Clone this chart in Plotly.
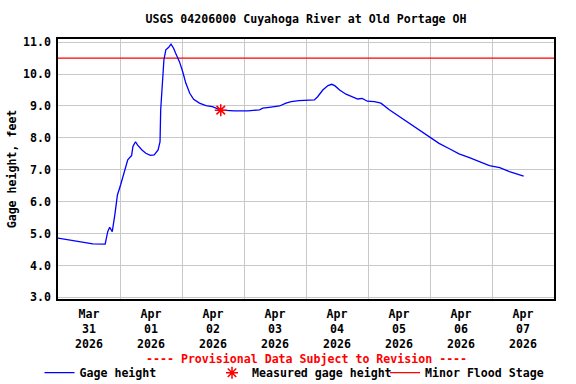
import plotly.graph_objects as go

# ---- data ----
gage_times = [
    "2026-03-31 00:00", "2026-03-31 04:15", "2026-03-31 08:45", "2026-03-31 13:30",
    "2026-03-31 18:15", "2026-03-31 19:15", "2026-03-31 20:00", "2026-03-31 20:45",
    "2026-03-31 21:00", "2026-03-31 22:00", "2026-03-31 23:00", "2026-04-01 00:15",
    "2026-04-01 01:45", "2026-04-01 03:00", "2026-04-01 04:30", "2026-04-01 05:00",
    "2026-04-01 06:00", "2026-04-01 06:45", "2026-04-01 08:30", "2026-04-01 10:00",
    "2026-04-01 11:45", "2026-04-01 13:15", "2026-04-01 14:45", "2026-04-01 15:30",
    "2026-04-01 15:45", "2026-04-01 16:30", "2026-04-01 17:00", "2026-04-01 17:45",
    "2026-04-01 18:45", "2026-04-01 19:45", "2026-04-01 20:45", "2026-04-01 21:30",
    "2026-04-01 23:00", "2026-04-02 00:15", "2026-04-02 01:30", "2026-04-02 03:00",
    "2026-04-02 04:30", "2026-04-02 06:45", "2026-04-02 09:15", "2026-04-02 11:45",
    "2026-04-02 13:45", "2026-04-02 15:00", "2026-04-02 20:15", "2026-04-03 01:30",
    "2026-04-03 06:00", "2026-04-03 07:15", "2026-04-03 09:45", "2026-04-03 13:45",
    "2026-04-03 16:15", "2026-04-03 18:15", "2026-04-03 21:15", "2026-04-04 03:15",
    "2026-04-04 04:30", "2026-04-04 06:30", "2026-04-04 08:30", "2026-04-04 10:00",
    "2026-04-04 11:15", "2026-04-04 13:00", "2026-04-04 15:30", "2026-04-04 18:00",
    "2026-04-04 20:00", "2026-04-04 21:45", "2026-04-04 23:45", "2026-04-05 02:30",
    "2026-04-05 05:00", "2026-04-05 08:15", "2026-04-05 12:00", "2026-04-05 16:00",
    "2026-04-05 20:00", "2026-04-05 23:45", "2026-04-06 03:30", "2026-04-06 07:30",
    "2026-04-06 11:15", "2026-04-06 15:15", "2026-04-06 19:00", "2026-04-06 23:00",
    "2026-04-07 03:00", "2026-04-07 06:45", "2026-04-07 12:15",
]
gage_height_ft = [
    4.86, 4.80, 4.74, 4.68,
    4.67, 5.06, 5.20, 5.06,
    5.06, 5.59, 6.21, 6.53,
    6.94, 7.31, 7.45, 7.73,
    7.88, 7.78, 7.62, 7.52,
    7.45, 7.47, 7.62, 7.88,
    8.88, 9.97, 10.45, 10.76,
    10.83, 10.94, 10.81, 10.66,
    10.39, 10.08, 9.71, 9.40,
    9.21, 9.09, 9.01, 8.98,
    8.91, 8.87, 8.85, 8.85,
    8.88, 8.93, 8.96, 9.00,
    9.09, 9.14, 9.17, 9.19,
    9.29, 9.50, 9.64, 9.68,
    9.63, 9.50, 9.37, 9.29,
    9.22, 9.24, 9.15, 9.14,
    9.09, 8.88, 8.67, 8.46,
    8.23, 8.02, 7.83, 7.66,
    7.50, 7.38, 7.25, 7.13,
    7.07, 6.94, 6.80,
]
measured_times = ["2026-04-02 15:00"]
measured_height_ft = [8.87]
flood_stage_ft = 10.5
x_range = ["2026-03-31 00:00", "2026-04-08 00:00"]
y_range = [2.95, 11.1]
y_ticks = [3, 4, 5, 6, 7, 8, 9, 10, 11]

title_text = "USGS 04206000 Cuyahoga River at Old Portage OH"
provisional_text = "---- Provisional Data Subject to Revision ----"

FONT = "DejaVu Sans Mono"
FS = 11.6
W, H = 576, 384

fig = go.Figure()
fig.add_trace(go.Scatter(
    x=x_range, y=[flood_stage_ft, flood_stage_ft], mode="lines",
    line=dict(color="#FF0000", width=1.3), name="Minor Flood Stage", legend="legend3",
))
fig.add_trace(go.Scatter(
    x=gage_times, y=gage_height_ft, mode="lines",
    line=dict(color="#0000FF", width=1.3, shape="linear"), name="Gage height", legend="legend",
))
fig.add_trace(go.Scatter(
    x=measured_times, y=measured_height_ft, mode="markers",
    marker=dict(symbol="asterisk-open", size=10, color="#FF0000",
                line=dict(color="#FF0000", width=1.5)),
    name="Measured gage height", legend="legend2",
))


def legend_at(left_px):
    return dict(orientation="h", xref="container", x=left_px / W, xanchor="left",
                yref="container", y=1 - 372.7 / H, yanchor="middle",
                font=dict(family=FONT, size=FS, color="black", weight="bold"),
                bgcolor="rgba(0,0,0,0)", borderwidth=0)


fig.update_layout(
    width=W, height=H,
    margin=dict(l=58, r=22, t=39, b=85),
    paper_bgcolor="white", plot_bgcolor="white",
    font=dict(family=FONT, size=FS, color="black", weight="bold"),
    title=dict(text=title_text, x=0.5, xref="paper", xanchor="center",
               y=1 - 19 / H, yref="container", yanchor="middle",
               font=dict(family=FONT, size=FS, color="black", weight="bold")),
    showlegend=True,
    legend=legend_at(39.5),
    legend2=legend_at(212.0),
    legend3=legend_at(385.0),
    annotations=[dict(text=provisional_text, xref="paper", yref="paper",
                      x=0.5, y=-(359 - 299) / 260, xanchor="center", yanchor="middle",
                      showarrow=False,
                      font=dict(family=FONT, size=FS, color="#FF0000", weight="bold"))],
)
fig.update_xaxes(
    type="date", range=x_range, tick0=x_range[0], dtick=86400000,
    ticklabelmode="period", tickformat="%b<br>%d<br>%Y", ticklabelstandoff=3,
    showgrid=True, gridcolor="#C8C8C8", gridwidth=1,
    showline=True, linecolor="black", linewidth=1.5, mirror=True,
    ticks="", zeroline=False, automargin=False,
)
fig.update_yaxes(
    range=y_range, tickvals=y_ticks, tickformat=".1f", ticklabelstandoff=3,
    showgrid=True, gridcolor="#C8C8C8", gridwidth=1,
    showline=True, linecolor="black", linewidth=1.5, mirror=True,
    ticks="", zeroline=False, automargin=False,
    title=dict(text="Gage height, feet", standoff=4,
               font=dict(family=FONT, size=FS, color="black", weight="bold")),
)

fig.write_html("out.html", post_script="document.body.style.margin='0';",
               config={"displayModeBar": False})
